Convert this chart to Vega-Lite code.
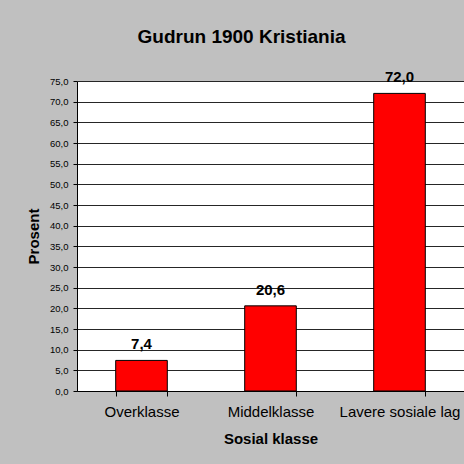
{
  "$schema": "https://vega.github.io/schema/vega-lite/v6.json",
  "width": 387,
  "height": 310,
  "autosize": {"type": "none"},
  "padding": {"left": 77, "top": 81, "right": 0, "bottom": 73},
  "background": "#c0c0c0",
  "title": {
    "text": "Gudrun 1900 Kristiania",
    "font": "Liberation Sans",
    "fontSize": 19,
    "fontWeight": "bold",
    "color": "#000000",
    "anchor": "middle",
    "frame": "group",
    "dx": -29,
    "offset": 23
  },
  "data": {
    "values": [
      {"klasse": "Overklasse", "prosent": 7.4},
      {"klasse": "Middelklasse", "prosent": 20.6},
      {"klasse": "Lavere sosiale lag", "prosent": 72.0}
    ]
  },
  "encoding": {
    "x": {
      "field": "klasse",
      "type": "nominal",
      "sort": null,
      "scale": {"paddingInner": 0.6, "paddingOuter": 0.3},
      "axis": {
        "title": "Sosial klasse",
        "labelAngle": 0,
        "tickBand": "extent",
        "tickSize": 5,
        "labelPadding": 8,
        "titlePadding": 12,
        "labelFontSize": 15,
        "titleFontSize": 15
      }
    },
    "y": {
      "field": "prosent",
      "type": "quantitative",
      "scale": {"domain": [0, 75], "nice": false},
      "axis": {
        "title": "Prosent",
        "values": [0, 5, 10, 15, 20, 25, 30, 35, 40, 45, 50, 55, 60, 65, 70, 75],
        "format": ".1f",
        "grid": true,
        "gridColor": "#000000",
        "gridOpacity": 0.85,
        "tickSize": 4,
        "labelPadding": 5,
        "labelFontSize": 9.5,
        "titleFontSize": 15,
        "titlePadding": 8
      }
    }
  },
  "layer": [
    {
      "mark": {"type": "bar", "color": "#ff0000", "stroke": "#000000", "strokeWidth": 1}
    },
    {
      "mark": {"type": "text", "baseline": "alphabetic", "dy": -11, "fontSize": 15, "fontWeight": "bold", "font": "Liberation Sans", "color": "#000000"},
      "encoding": {
        "text": {"field": "prosent", "type": "quantitative", "format": ".1f"}
      }
    }
  ],
  "config": {
    "locale": {"number": {"decimal": ",", "thousands": " ", "grouping": [3], "currency": ["", " kr"]}},
    "view": {"fill": "#ffffff", "stroke": null},
    "axis": {
      "labelFont": "Liberation Sans",
      "titleFont": "Liberation Sans",
      "labelColor": "#000000",
      "titleColor": "#000000",
      "titleFontWeight": "bold",
      "domainColor": "#000000",
      "tickColor": "#000000",
      "labelFontWeight": "normal"
    }
  }
}
